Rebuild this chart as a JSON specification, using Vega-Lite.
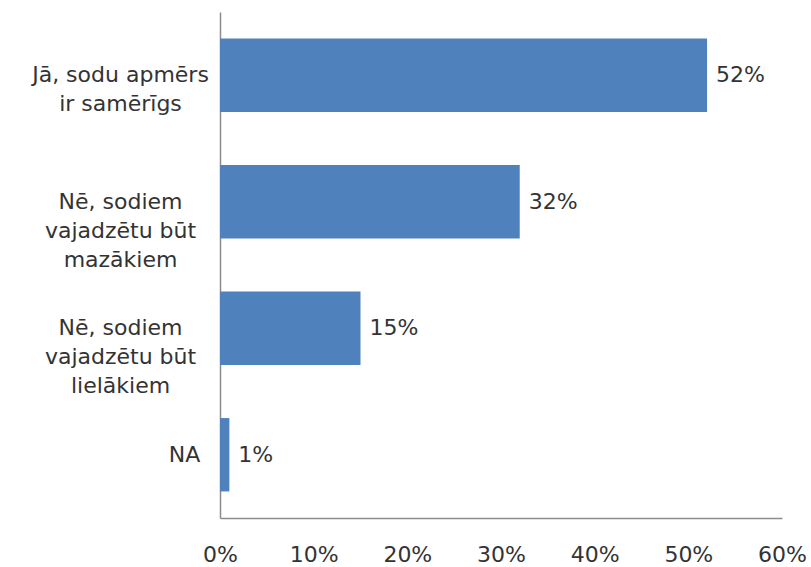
{
  "$schema": "https://vega.github.io/schema/vega-lite/v6.json",
  "width": 562,
  "height": 506,
  "autosize": {"type": "none"},
  "padding": {"left": 220, "top": 12, "right": 29, "bottom": 49},
  "background": "white",
  "config": {"view": {"stroke": null}, "font": "DejaVu Sans"},
  "data": {
    "values": [
      {"answer": "Jā, sodu apmērs\nir samērīgs", "share": 0.52},
      {"answer": "Nē, sodiem\nvajadzētu būt\nmazākiem", "share": 0.32},
      {"answer": "Nē, sodiem\nvajadzētu būt\nlielākiem", "share": 0.15},
      {"answer": "NA", "share": 0.01}
    ]
  },
  "encoding": {
    "y": {
      "field": "answer",
      "type": "nominal",
      "sort": null,
      "scale": {"paddingInner": 0.42, "paddingOuter": 0.21},
      "axis": {
        "title": null,
        "ticks": false,
        "domainColor": "#8c8c8c",
        "domainWidth": 1.5,
        "labelAlign": "center",
        "labelBaseline": "middle",
        "labelPadding": {"condition": {"test": "datum.value === 'NA'", "value": 36}, "value": 100},
        "labelLimit": 400,
        "labelFont": "DejaVu Sans",
        "labelFontSize": 22,
        "labelColor": "#333333",
        "labelLineHeight": 29,
        "labelExpr": "split(datum.value, '\\n')"
      }
    },
    "x": {
      "field": "share",
      "type": "quantitative",
      "scale": {"domain": [0, 0.6], "nice": false},
      "axis": {
        "title": null,
        "ticks": false,
        "grid": false,
        "values": [0, 0.1, 0.2, 0.3, 0.4, 0.5, 0.6],
        "format": ".0%",
        "domainColor": "#8c8c8c",
        "domainWidth": 1.5,
        "labelFont": "DejaVu Sans",
        "labelFontSize": 22,
        "labelColor": "#333333",
        "labelBaseline": "alphabetic",
        "labelPadding": 43,
        "labelFlush": false,
        "labelOverlap": false
      }
    }
  },
  "layer": [
    {"mark": {"type": "bar", "color": "#4F81BD"}},
    {
      "mark": {"type": "text", "align": "left", "baseline": "middle", "dx": 9, "fontSize": 22, "font": "DejaVu Sans", "color": "#333333"},
      "encoding": {"text": {"field": "share", "format": ".0%"}}
    }
  ]
}
